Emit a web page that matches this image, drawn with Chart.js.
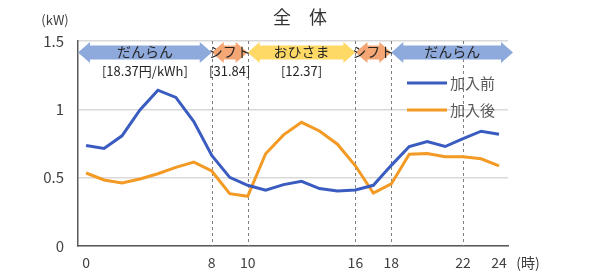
<!DOCTYPE html>
<html>
<head>
<meta charset="utf-8">
<script src="https://cdn.jsdelivr.net/npm/chart.js@4.4.1/dist/chart.umd.min.js"></script>
<style>
  body { margin: 0; background: #fff; }
  #wrap { width: 590px; height: 277px; }
</style>
</head>
<body>
<div id="wrap"><canvas id="myChart"></canvas></div>
<script>
// 時間帯（24点）と軸ラベル
const tickLabels = ['0','','','','','','','8','','10','','','','','','16','','18','','','','22','','24'];
const before = [0.735, 0.714, 0.806, 0.995, 1.14, 1.087, 0.91, 0.663, 0.502, 0.444, 0.408, 0.449,
                0.473, 0.42, 0.403, 0.41, 0.444, 0.59, 0.728, 0.765, 0.728, 0.786, 0.84, 0.818];
const after  = [0.534, 0.483, 0.461, 0.49, 0.529, 0.575, 0.614, 0.549, 0.383, 0.364, 0.675, 0.813,
                0.905, 0.842, 0.745, 0.587, 0.388, 0.454, 0.672, 0.677, 0.653, 0.653, 0.638, 0.587];
const yTicks = [0, 0.5, 1, 1.5];
const dashedAt = [7, 9, 15, 17, 21];

// 料金帯（矢印）
const bandNames  = ['だんらん', 'シフト', 'おひさま', 'シフト', 'だんらん'];
const bandPrices = ['[18.37円/kWh]', '[31.84]', '[12.37]', '', ''];
const bandFrom   = [-0.45, 7, 9, 15, 17];
const bandTo     = [7, 9, 15, 17, 23.78];
const bandColors = ['#8eaadc', '#f4a774', '#ffd966', '#f4a774', '#8eaadc'];

const JP = '"Noto Sans CJK JP", "Noto Sans", sans-serif';

const toPoints = arr => arr.map((v, i) => ({ x: i, y: v }));

function arrow(ctx, x1, x2, yc, color) {
    const hh = 10.5, sh = 7, hl = 12;
    ctx.beginPath();
    ctx.moveTo(x1, yc);
    ctx.lineTo(x1 + hl, yc - hh);
    ctx.lineTo(x1 + hl, yc - sh);
    ctx.lineTo(x2 - hl, yc - sh);
    ctx.lineTo(x2 - hl, yc - hh);
    ctx.lineTo(x2, yc);
    ctx.lineTo(x2 - hl, yc + hh);
    ctx.lineTo(x2 - hl, yc + sh);
    ctx.lineTo(x1 + hl, yc + sh);
    ctx.lineTo(x1 + hl, yc + hh);
    ctx.closePath();
    ctx.fillStyle = color;
    ctx.fill();
}

const extras = {
    id: 'extras',
    beforeDatasetsDraw(chart) {
        const ctx = chart.ctx, x = chart.scales.x, a = chart.chartArea;
        ctx.save();
        ctx.strokeStyle = '#7f7f7f';
        ctx.lineWidth = 1;
        ctx.setLineDash([3, 3]);
        dashedAt.forEach(i => {
            const px = Math.round(x.getPixelForValue(i)) + 0.5;
            ctx.beginPath();
            ctx.moveTo(px, a.top);
            ctx.lineTo(px, a.bottom);
            ctx.stroke();
        });
        ctx.restore();
    },
    afterDraw(chart) {
        const ctx = chart.ctx, x = chart.scales.x, a = chart.chartArea;
        ctx.save();
        // 矢印
        for (let i = 0; i < bandNames.length; i++) {
            const x1 = x.getPixelForValue(bandFrom[i]);
            const x2 = x.getPixelForValue(bandTo[i]);
            arrow(ctx, x1, x2, 52.5, bandColors[i]);
        }
        ctx.fillStyle = '#262626';
        ctx.textAlign = 'center';
        ctx.textBaseline = 'middle';
        for (let i = 0; i < bandNames.length; i++) {
            const cx = (x.getPixelForValue(bandFrom[i]) + x.getPixelForValue(bandTo[i])) / 2;
            ctx.font = '14px ' + JP;
            ctx.fillText(bandNames[i], cx, 52);
            if (bandPrices[i]) {
                ctx.font = '13px ' + JP;
                ctx.fillText(bandPrices[i], cx, 71);
            }
        }
        // タイトル・単位
        ctx.fillStyle = '#333';
        ctx.font = '18px ' + JP;
        ctx.fillText('全　体', 300, 17);
        ctx.fillStyle = '#404040';
        ctx.font = '13px ' + JP;
        ctx.fillText('(kW)', 55, 20);
        ctx.font = '14px ' + JP;
        ctx.fillText('(時)', 528, 263);
        // 凡例
        const items = [['加入前', '#3a5cc0', 83], ['加入後', '#f39a25', 110]];
        items.forEach(it => {
            ctx.strokeStyle = it[1];
            ctx.lineWidth = 3;
            ctx.beginPath();
            ctx.moveTo(407, it[2]);
            ctx.lineTo(447, it[2]);
            ctx.stroke();
            ctx.fillStyle = '#595959';
            ctx.font = '15px ' + JP;
            ctx.textAlign = 'left';
            ctx.fillText(it[0], 450, it[2]);
        });
        ctx.restore();
    }
};

const data = {
    datasets: [{
        label: '加入前',
        data: toPoints(before),
        borderColor: '#3a5cc0',
        borderWidth: 3,
        pointRadius: 0,
        tension: 0
    }, {
        label: '加入後',
        data: toPoints(after),
        borderColor: '#f39a25',
        borderWidth: 3,
        pointRadius: 0,
        tension: 0
    }]
};

const config = {
    type: 'line',
    data: data,
    options: {
        responsive: false,
        animation: false,
        layout: { padding: { left: 0, right: 82, top: 41, bottom: 0 } },
        plugins: {
            legend: { display: false },
            tooltip: { enabled: false }
        },
        scales: {
            x: {
                type: 'linear',
                min: -0.45,
                max: 23.5,
                afterBuildTicks: s => { s.ticks = tickLabels.map((t, i) => ({ value: i })).filter((t, i) => tickLabels[i] !== ''); },
                afterFit: s => { s.height = 31; },
                ticks: {
                    autoSkip: false,
                    maxRotation: 0,
                    padding: 8,
                    color: '#404040',
                    font: { size: 14, family: JP },
                    callback: v => tickLabels[v]
                },
                grid: { display: false, drawTicks: false },
                border: { color: '#595959', width: 1.5 }
            },
            y: {
                min: 0,
                max: 1.5,
                afterBuildTicks: s => { s.ticks = yTicks.map(v => ({ value: v })); },
                afterFit: s => { s.width = 78; },
                ticks: {
                    padding: 14,
                    color: '#404040',
                    font: { size: 15, family: JP },
                    callback: v => String(v)
                },
                grid: { color: '#d9d9d9', lineWidth: 1.5, drawTicks: false },
                border: { color: '#595959', width: 1.5 }
            }
        }
    },
    plugins: [extras]
};

const canvas = document.getElementById('myChart');
canvas.width = 590;
canvas.height = 277;
const myChart = new Chart(canvas, config);
</script>
</body>
</html>
